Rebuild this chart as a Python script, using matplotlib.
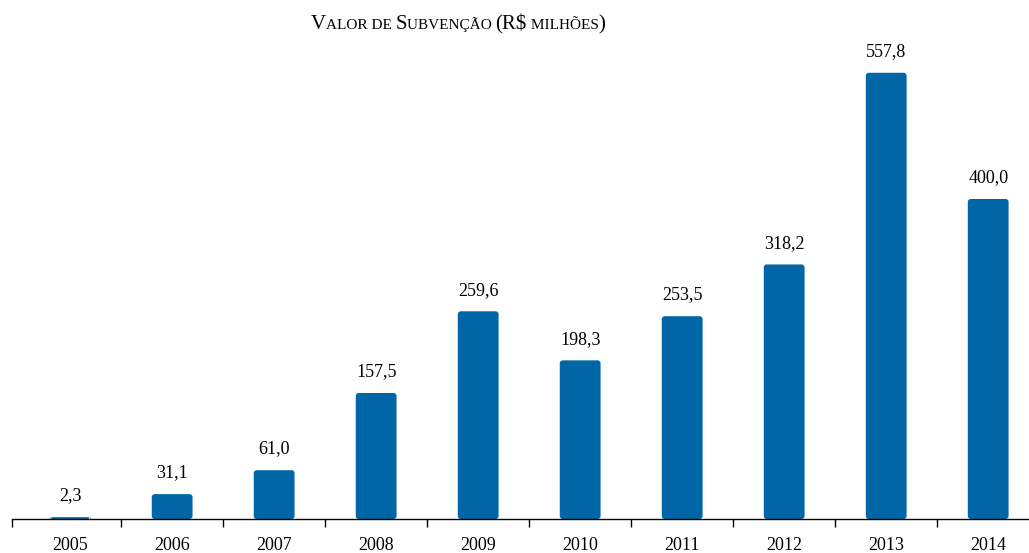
import matplotlib.pyplot as plt
from matplotlib.patches import FancyBboxPatch
from matplotlib.offsetbox import TextArea, HPacker, AnnotationBbox

anos = ['2005', '2006', '2007', '2008', '2009', '2010', '2011', '2012', '2013', '2014']
valores = [2.3, 31.1, 61.0, 157.5, 259.6, 198.3, 253.5, 318.2, 557.8, 400.0]
rotulos = ['2,3', '31,1', '61,0', '157,5', '259,6', '198,3', '253,5', '318,2', '557,8', '400,0']

azul = '#0066a6'
fonte = 'Liberation Serif'

fig = plt.figure(figsize=(10.29, 5.53), dpi=100)
ax = fig.add_axes([12 / 1029, 34 / 553, 1017 / 1029, 480 / 553])
ax.set_xlim(-0.57, 9.4)
ax.set_ylim(0, 600)

x = list(range(len(anos)))
bars = ax.bar(x, valores, width=0.4, color=azul)
# troca por caixas com cantos arredondados
for b in bars:
    b.set_visible(False)
    p = FancyBboxPatch((b.get_x(), 0), b.get_width(), b.get_height(),
                       boxstyle='round,pad=0,rounding_size=0.03',
                       mutation_aspect=125, facecolor=azul, edgecolor='none')
    ax.add_patch(p)

for xi, v, r in zip(x, valores, rotulos):
    ax.annotate(r, (xi, v), xytext=(0, 12), textcoords='offset points',
                ha='center', va='baseline', fontsize=13, family=fonte)

for s in ['top', 'right', 'left']:
    ax.spines[s].set_visible(False)
ax.spines['bottom'].set_linewidth(1)
ax.set_yticks([])
ax.set_xticks(x)
ax.set_xticklabels(anos, fontsize=13, family=fonte)
ax.tick_params(axis='x', which='major', length=0, pad=13)
ax.set_xticks([-0.57] + [i + 0.5 for i in range(9)], minor=True)
ax.tick_params(axis='x', which='minor', length=6, width=1, direction='out')

# titulo em versalete
partes = [('V', 15), ('ALOR DE ', 11), ('S', 15), ('UBVENÇÃO ', 11),
          ('(R$', 15), (' MILHÕES', 11), (')', 15)]
areas = [TextArea(t, textprops=dict(fontsize=s, family=fonte)) for t, s in partes]
caixa = HPacker(children=areas, align='baseline', pad=0, sep=0)
ab = AnnotationBbox(caixa, (458 / 1029, 1 - 24 / 553), xycoords='figure fraction',
                    frameon=False, box_alignment=(0.5, 0.5))
fig.add_artist(ab)

fig.savefig('out.png', dpi=100)
